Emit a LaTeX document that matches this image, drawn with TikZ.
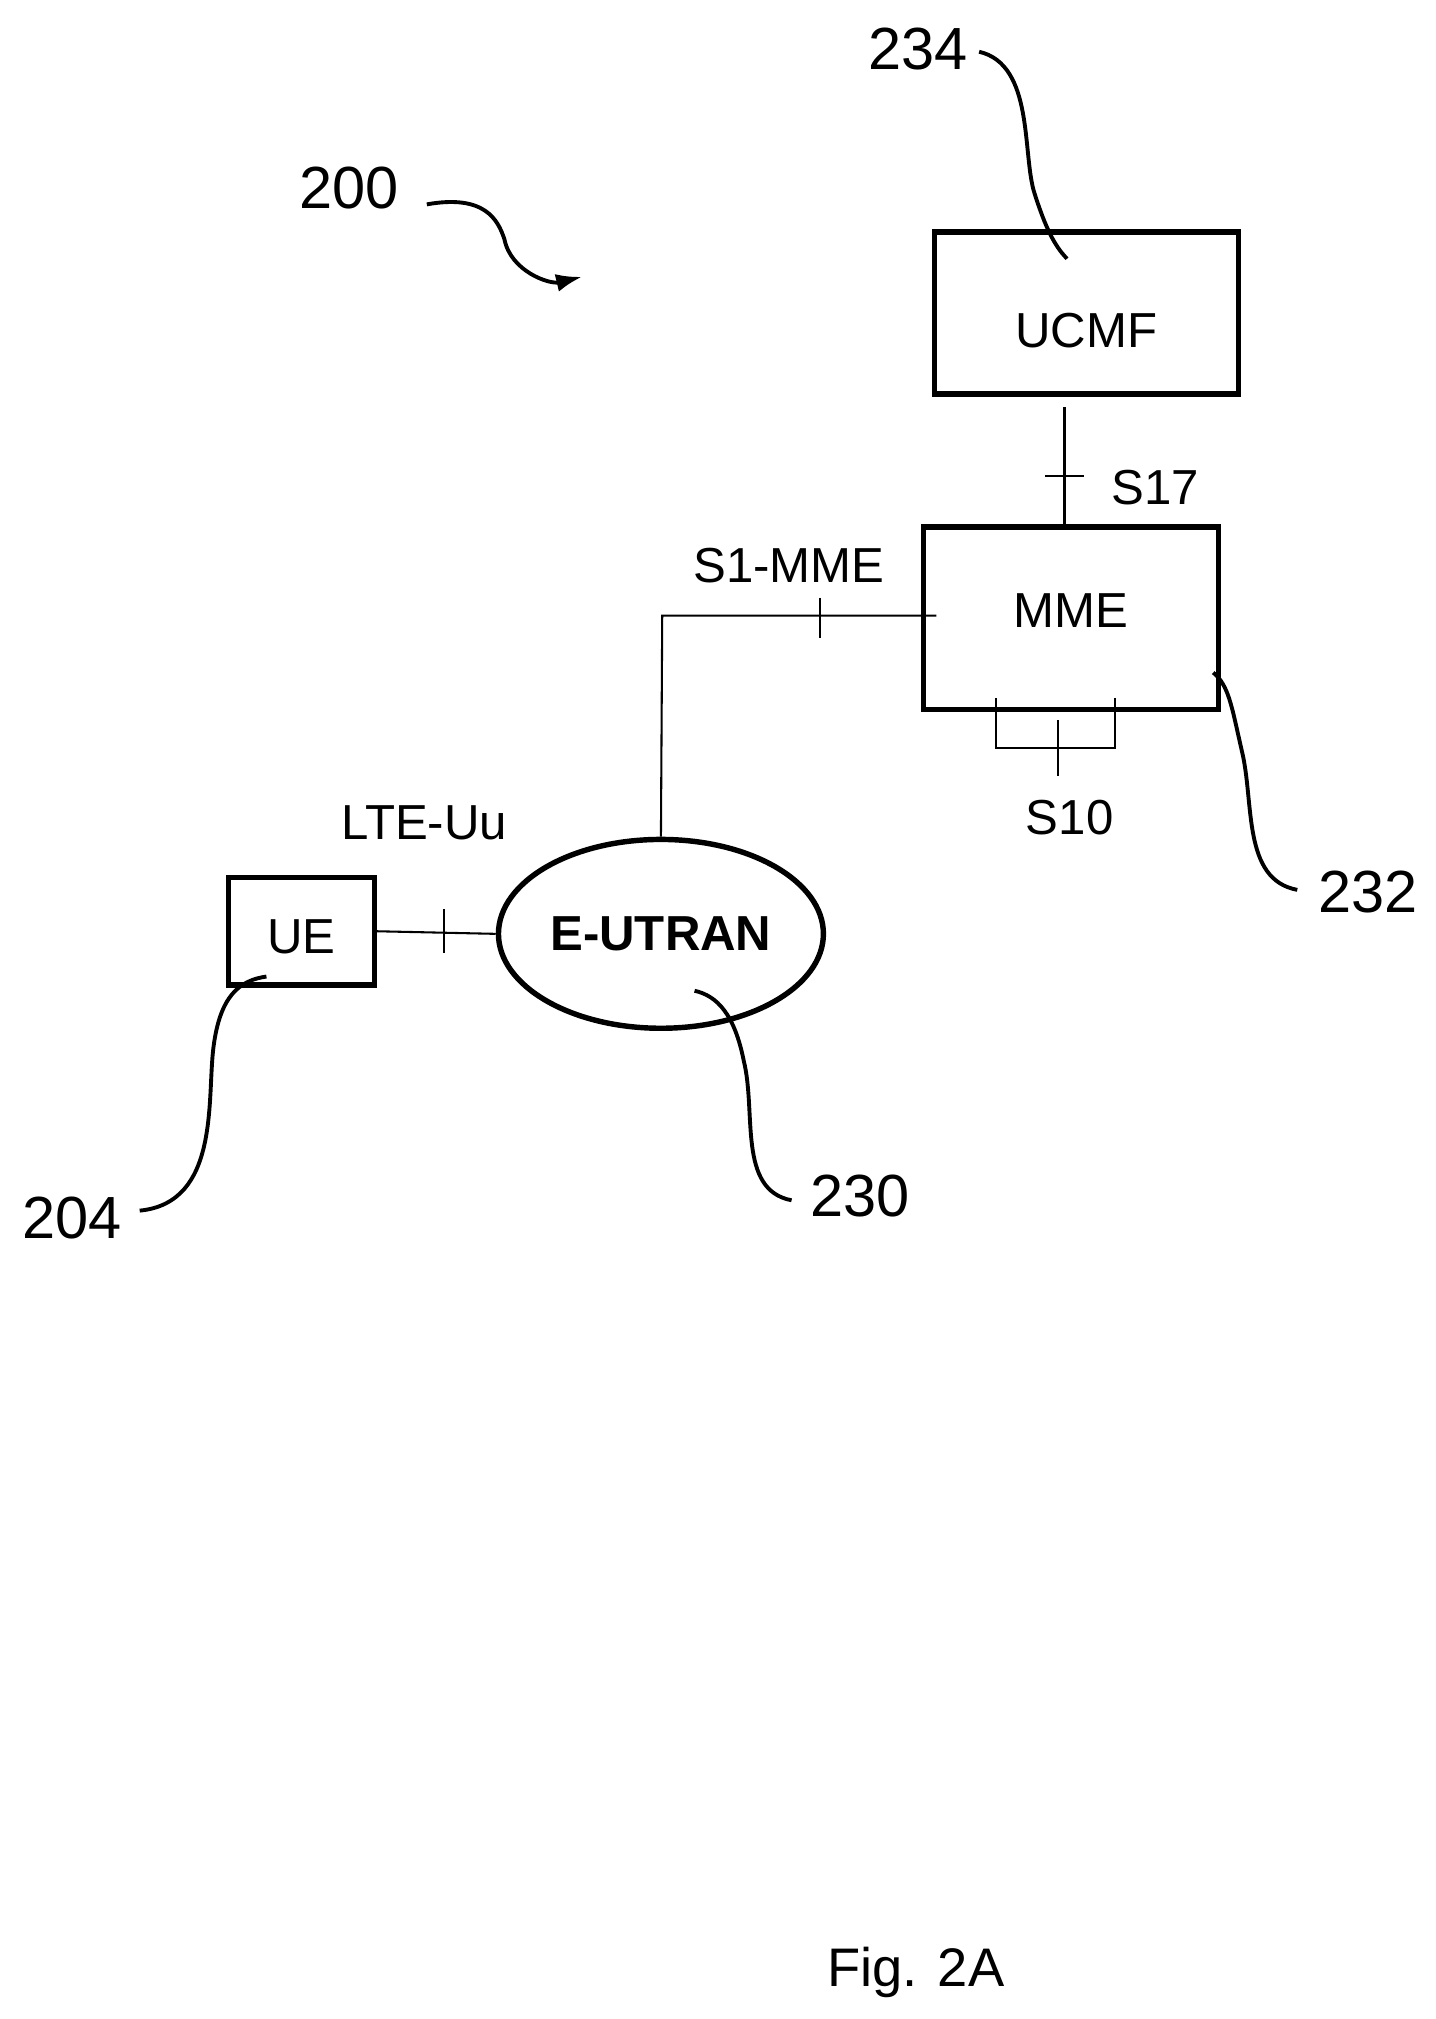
\documentclass[tikz,border=0pt]{standalone}
\usepackage{fontspec}
\setmainfont{Liberation Sans}
\usetikzlibrary{shapes.geometric, arrows.meta}
\begin{document}
\begin{tikzpicture}[x=1pt,y=-1pt]
\tikzset{
    box/.style={rectangle, draw=black, line width=4.2pt, font=\fontsize{38}{40}\selectfont},
    lbl/.style={font=\fontsize{38}{40}\selectfont},
    ref/.style={font=\fontsize{46}{48}\selectfont},
    lead/.style={line width=3pt},
    link/.style={line width=1.6pt}
}
\useasboundingbox (0,0) rectangle (1110,1561);

% nodes
\node[box, minimum width=235pt, minimum height=125pt, text height=54pt] (ucmf) at (840,242) {UCMF};
\node[box, minimum width=228pt, minimum height=141pt, text depth=12pt] (mme) at (828,478) {MME};
\node[box, minimum width=113pt, minimum height=83pt, text height=34pt] (ue) at (233,720) {UE};
\node[ellipse, draw=black, line width=4.2pt, minimum width=246pt, minimum height=146pt, font=\fontsize{38}{40}\selectfont\bfseries] (eutran) at (511,722) {E-UTRAN};

\node[ref] (n234) at (710,38) {234};
\node[ref] (n200) at (270,145) {200};
\node[ref] (n232) at (1058,690) {232};
\node[ref] (n230) at (665,925) {230};
\node[ref] (n204) at (56,942) {204};
\node[font=\fontsize{42}{44}\selectfont] (fig) at (708,1525) {Fig. 2A};

\node[lbl] (s17) at (893,377) {S17};
\node[lbl] (s1mme) at (610,437) {S1-MME};
\node[lbl] (s10) at (827,632) {S10};
\node[lbl] (lteuu) at (328,636) {LTE-Uu};

% interfaces
\coordinate (ucmfb) at (823,315);
\draw[link] (ucmfb) -- (823,408);
\draw[link] (808,368) -- (838,368);
\draw[link] (eutran.north) -- (512,476) -- (724,476);
\draw[link] (634,462) -- (634,493);
\draw[link] (770,540) -- (770,578) -- (862,578) -- (862,540);
\draw[link] (818,557) -- (818,600);
\draw[link] (ue.east) -- (eutran.west);
\draw[link] (343,703) -- (343,737);

% leaders
\draw[lead] (757,40) .. controls (800,50) and (790,120) .. (800,150) .. controls (808,175) and (815,190) .. (825,200);
\draw[lead] (1003,688) .. controls (960,680) and (970,620) .. (960,580) .. controls (952,545) and (950,530) .. (938,520);
\draw[lead] (612,928) .. controls (570,920) and (585,860) .. (575,820) .. controls (568,785) and (555,770) .. (537,766);
\draw[lead] (108,936) .. controls (170,930) and (160,850) .. (165,810) .. controls (170,770) and (185,758) .. (206,755);
\draw[lead, -{Latex[length=20pt,width=14pt]}] (330,158) .. controls (375,150) and (385,170) .. (390,185) .. controls (395,210) and (425,220) .. (450,214);
\end{tikzpicture}
\end{document}
